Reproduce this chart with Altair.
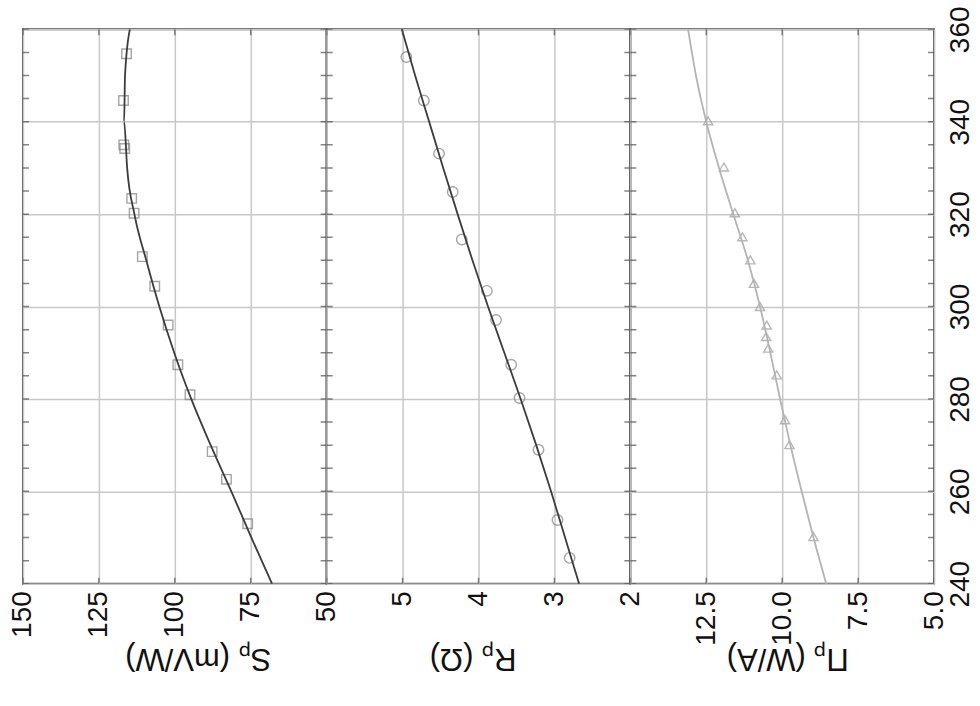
import altair as alt
import pandas as pd

# Temperature (x) and fitted curves, read every 10 degrees
T_FIT = [240, 250, 260, 270, 280, 290, 300, 310, 320, 330, 340, 350, 360]
S_FIT = [68.0, 74.8, 81.4, 88.2, 94.6, 100.2, 105.1, 109.4, 113.3, 115.7, 116.7, 116.4, 114.8]
R_FIT = [2.675, 2.86, 3.045, 3.24, 3.445, 3.66, 3.875, 4.08, 4.275, 4.465, 4.65, 4.835, 5.01]
PI_FIT = [8.55, 8.97, 9.36, 9.73, 10.07, 10.39, 10.73, 11.13, 11.61, 12.08, 12.50, 12.84, 13.10]

# Measured points
T_S = [354.7, 344.6, 335.0, 334.2, 323.4, 320.2, 310.8, 304.4, 296.0, 287.4, 280.9, 268.6, 262.6, 253.0]
S_PTS = [115.9, 116.9, 116.8, 116.5, 114.2, 113.4, 110.7, 106.6, 102.2, 99.0, 95.0, 87.7, 83.0, 76.0]

T_R = [354.0, 344.6, 333.1, 324.8, 314.5, 303.4, 297.1, 287.4, 280.2, 269.0, 253.8, 245.6]
R_PTS = [4.95, 4.72, 4.52, 4.34, 4.22, 3.89, 3.77, 3.57, 3.46, 3.21, 2.96, 2.80]

T_PI = [340.2, 330.2, 320.3, 315.1, 310.1, 305.0, 300.0, 296.0, 293.5, 291.0, 285.2, 275.5, 270.1, 250.2]
PI_PTS = [12.44, 11.92, 11.56, 11.31, 11.05, 10.93, 10.73, 10.51, 10.53, 10.46, 10.18, 9.91, 9.76, 8.97]

# Axis ticks
T_MINOR = list(range(240, 361, 5))
T_MAJOR = [240, 260, 280, 300, 320, 340, 360]
S_TICKS = [50, 75, 100, 125, 150]
R_TICKS = [2, 3, 4, 5, 6]
PI_TICKS = [5.0, 7.5, 10.0, 12.5, 15.0]

FONT = "Liberation Sans"
PANEL_W, PANEL_H = 304, 555
T_DOMAIN = [240, 360]


def panel(fit_vals, pts_t, pts_vals, domain, ticks, hidden_label, fmt, title,
          title_x, shape, line_color, mark_color, mark_size, last):
    fit = pd.DataFrame({"T": T_FIT, "v": fit_vals})
    pts = pd.DataFrame({"T": pts_t, "v": pts_vals})
    edge_ticks = pd.DataFrame({"v": ticks * 2,
                               "T": [T_DOMAIN[0]] * len(ticks) + [T_DOMAIN[1]] * len(ticks)})
    side_ticks = pd.DataFrame({"T": T_MINOR * 2,
                               "v": [domain[0]] * len(T_MINOR) + [domain[1]] * len(T_MINOR)})

    label_expr = "datum.label"
    if hidden_label is not None:
        label_expr = f"datum.value == {hidden_label} ? '' : datum.label"

    xscale = alt.Scale(domain=domain, reverse=True, nice=False, zero=False)
    yscale = alt.Scale(domain=T_DOMAIN, nice=False, zero=False)

    xaxis = alt.Axis(values=ticks, grid=True, ticks=False, domain=False,
                     format=fmt, labelExpr=label_expr,
                     labelAngle=270, labelAlign="right", labelBaseline="middle",
                     labelPadding=7, labelOverlap=False, labelFlush=False,
                     title=title, titleAngle=180, titleBaseline="bottom",
                     titleX=title_x, titleY=58)
    if last:
        yaxis = alt.Axis(values=T_MAJOR, orient="right", grid=True, ticks=False,
                         domain=False, labelAngle=270, labelAlign="center",
                         labelBaseline="top", labelPadding=12, labelOverlap=False,
                         labelFlush=False, title=None)
    else:
        yaxis = alt.Axis(values=T_MAJOR, grid=True, ticks=False, domain=False,
                         labels=False, title=None)

    x = alt.X("v:Q", scale=xscale, axis=xaxis)
    y = alt.Y("T:Q", scale=yscale, axis=yaxis)

    top_bottom = alt.Chart(edge_ticks).mark_tick(
        orient="vertical", size=12, thickness=1.5, color="#505050", clip=True
    ).encode(x=alt.X("v:Q", scale=xscale), y=alt.Y("T:Q", scale=yscale))
    sides = alt.Chart(side_ticks).mark_tick(
        orient="horizontal", size=12, thickness=1.5, color="#505050", clip=True
    ).encode(x=alt.X("v:Q", scale=xscale), y=alt.Y("T:Q", scale=yscale))

    points = alt.Chart(pts).mark_point(
        shape=shape, size=mark_size, filled=False, color=mark_color, strokeWidth=1.4
    ).encode(x=x, y=y)
    curve = alt.Chart(fit).mark_line(
        color=line_color, strokeWidth=1.8, interpolate="monotone"
    ).encode(x=alt.X("v:Q", scale=xscale), y=alt.Y("T:Q", scale=yscale), order="T:Q")

    return alt.layer(points, curve, top_bottom, sides).properties(
        width=PANEL_W, height=PANEL_H)


p_s = panel(S_FIT, T_S, S_PTS, [50, 150], S_TICKS, None, "d", "Sₚ (mV/W)",
            175, "square", "#3c3c3c", "#808080", 90, False)
p_r = panel(R_FIT, T_R, R_PTS, [2, 6], R_TICKS, 6, "d", "Rₚ (Ω)",
            146, "circle", "#3c3c3c", "#808080", 110, False)
p_pi = panel(PI_FIT, T_PI, PI_PTS, [5, 15], PI_TICKS, 15, ".1f", "Πₚ (W/A)",
             157, "triangle-up", "#b4b4b4", "#9a9a9a", 85, True)

chart = alt.hconcat(p_s, p_r, p_pi, spacing=0, bounds="flush").properties(
    padding={"left": 8, "top": 4, "right": 5, "bottom": 5},
    background="white",
).configure_view(
    stroke="#505050", strokeWidth=2
).configure_axis(
    gridColor="#c8c8c8", gridWidth=1.5,
    labelFont=FONT, labelFontSize=28, labelColor="#111111",
    titleFont=FONT, titleFontSize=31, titleFontWeight="normal", titleColor="#111111",
)

chart.save("out.html", embed_options={"renderer": "svg", "actions": False})
